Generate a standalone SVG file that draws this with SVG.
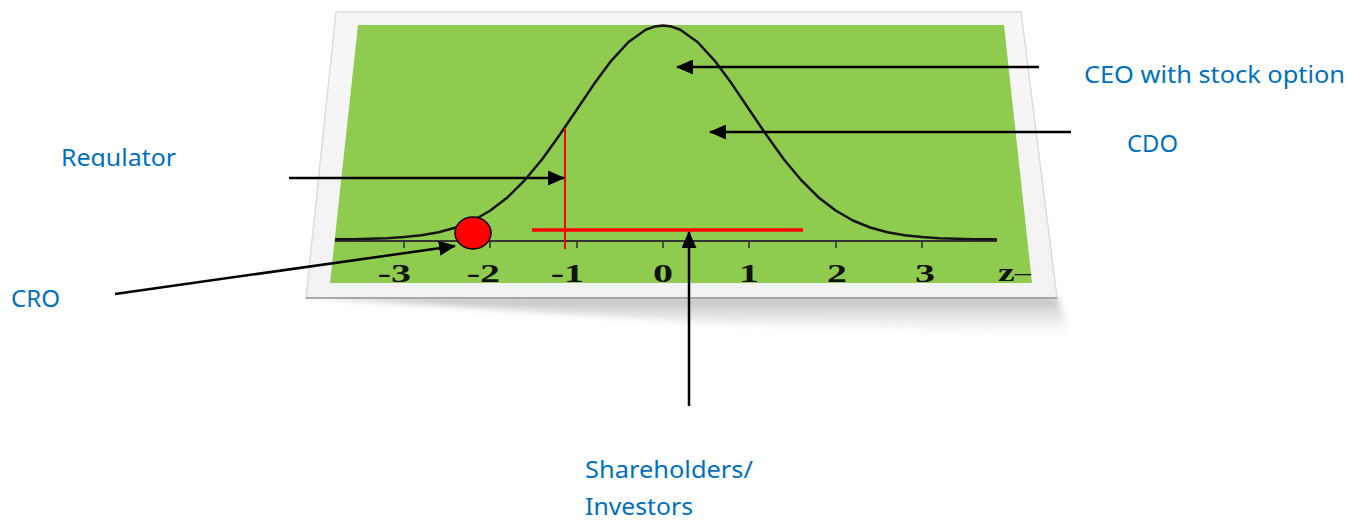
<svg xmlns="http://www.w3.org/2000/svg" width="1359" height="521" viewBox="0 0 1359 521">
  <style>
    .lbl { font-family: "Noto Sans", "Open Sans", sans-serif; font-size: 23px; fill: #0070C0; }
    .tick { font-family: "Liberation Serif", serif; font-weight: bold; font-size: 25px; fill: #111; }
    .arrow { stroke: #000; stroke-width: 2.5; fill: none; marker-end: url(#ah); }
  </style>
  <defs>
    <marker id="ah" markerUnits="userSpaceOnUse" markerWidth="17" markerHeight="15" viewBox="0 0 17 15" refX="16" refY="7.5" orient="auto">
      <path d="M0,0 L17,7.5 L0,15 z" fill="#000"/>
    </marker>
    <linearGradient id="shadowGrad" x1="0" y1="0" x2="0" y2="1">
      <stop offset="0" stop-color="#a0a0a0" stop-opacity="0.7"/>
      <stop offset="1" stop-color="#d0d0d0" stop-opacity="0"/>
    </linearGradient>
    <linearGradient id="frameGrad" x1="0" y1="0" x2="0" y2="1">
      <stop offset="0" stop-color="#f7f7f7"/>
      <stop offset="1" stop-color="#f2f2f2"/>
    </linearGradient>
    <filter id="blur" x="-10%" y="-50%" width="120%" height="200%">
      <feGaussianBlur stdDeviation="3"/>
    </filter>
    <clipPath id="regClip">
      <rect x="0" y="120" width="300" height="47"/>
    </clipPath>
    <clipPath id="greenClip">
      <polygon points="358,25 1004,25 1032,283 330,283"/>
    </clipPath>
  </defs>

  <rect width="1359" height="521" fill="#ffffff"/>

  <g id="chart">
    <!-- shadow below the frame -->
    <polygon points="312,297 1057,297 1070,336 720,324" fill="url(#shadowGrad)" filter="url(#blur)"/>
    <!-- frame -->
    <polygon points="336,12 1021,12 1057,298 306,298" fill="url(#frameGrad)" stroke="#dcdcdc" stroke-width="1.5"/>
    <line x1="306" y1="298" x2="1057" y2="298" stroke="#a8a8a8" stroke-width="2"/>
    <!-- green plot area -->
    <polygon points="358,25 1004,25 1032,283 330,283" fill="#8fcb4f"/>
    <!-- axis -->
    <line x1="335" y1="241" x2="997" y2="241" stroke="#333" stroke-width="2"/>
    <g stroke="#333" stroke-width="1.6">
      <line x1="404" y1="241" x2="404" y2="248"/>
      <line x1="490" y1="241" x2="490" y2="248"/>
      <line x1="577" y1="241" x2="577" y2="248"/>
      <line x1="663" y1="241" x2="663" y2="248"/>
      <line x1="749" y1="241" x2="749" y2="248"/>
      <line x1="836" y1="241" x2="836" y2="248"/>
      <line x1="922" y1="241" x2="922" y2="248"/>
    </g>
    <!-- bell curve -->
    <polyline fill="none" stroke="#151515" stroke-width="2.5" stroke-linejoin="round"
      points="335.1,239.3 352.3,239.2 369.6,238.8 386.8,238.2 404.1,237.1 421.4,235.3 438.6,232.2 455.9,227.5 473.1,220.5 490.4,210.5 507.7,197.2 524.9,180.0 542.2,159.2 559.4,135.3 576.7,109.7 594.0,84.1 611.2,60.8 628.5,42.0 645.7,29.7 654.4,26.6 663,25.5 671.6,26.6 680.3,29.7 697.5,42.0 714.8,60.8 732.0,84.1 749.3,109.7 766.6,135.3 783.8,159.2 801.1,180.0 818.3,197.2 835.6,210.5 852.9,220.5 870.1,227.5 887.4,232.2 904.6,235.3 921.9,237.1 939.2,238.2 956.4,238.8 973.7,239.2 990.9,239.3 997,239.5"/>
    <!-- tick labels -->
    <g clip-path="url(#greenClip)">
      <text class="tick" text-anchor="end" transform="translate(411,282) scale(1.6,1)">-3</text>
      <text class="tick" text-anchor="end" transform="translate(500,282) scale(1.6,1)">-2</text>
      <text class="tick" text-anchor="end" transform="translate(584,282) scale(1.6,1)">-1</text>
      <text class="tick" text-anchor="middle" transform="translate(663,282) scale(1.6,1)">0</text>
      <text class="tick" text-anchor="middle" transform="translate(749,282) scale(1.6,1)">1</text>
      <text class="tick" text-anchor="middle" transform="translate(837,282) scale(1.6,1)">2</text>
      <text class="tick" text-anchor="middle" transform="translate(925,282) scale(1.6,1)">3</text>
      <text class="tick" transform="translate(998,281) scale(1.5,1)">z<tspan font-weight="normal">–</tspan></text>
    </g>
    <!-- red markers -->
    <line x1="565" y1="128" x2="565" y2="249" stroke="#ff0000" stroke-width="2"/>
    <line x1="532" y1="230" x2="803" y2="230" stroke="#ff0000" stroke-width="3.5"/>
  </g>

  <g id="cro-dot">
    <ellipse cx="473" cy="233" rx="18" ry="16" fill="#ff0000" stroke="#000" stroke-width="1.5"/>
  </g>

  <g id="connectors">
    <line class="arrow" x1="1039" y1="67" x2="677" y2="67"/>
    <line class="arrow" x1="1071" y1="132" x2="710" y2="132"/>
    <line class="arrow" x1="289" y1="178" x2="564" y2="178"/>
    <line class="arrow" x1="115" y1="294" x2="455" y2="246"/>
    <line class="arrow" x1="689" y1="406" x2="689" y2="232"/>
  </g>

  <g id="ceo"><text class="lbl" x="1084" y="83" textLength="261" lengthAdjust="spacingAndGlyphs">CEO with stock option</text></g>
  <g id="cdo"><text class="lbl" x="1127" y="152" textLength="51" lengthAdjust="spacingAndGlyphs">CDO</text></g>
  <g id="regulator"><text class="lbl" x="61" y="166" textLength="115" lengthAdjust="spacingAndGlyphs" clip-path="url(#regClip)">Regulator</text></g>
  <g id="cro"><text class="lbl" x="11" y="307" textLength="49" lengthAdjust="spacingAndGlyphs">CRO</text></g>
  <g id="shareholders">
    <text class="lbl" x="585" y="478" textLength="168" lengthAdjust="spacingAndGlyphs">Shareholders/</text>
    <text class="lbl" x="585" y="515" textLength="108" lengthAdjust="spacingAndGlyphs">Investors</text>
  </g>
</svg>
